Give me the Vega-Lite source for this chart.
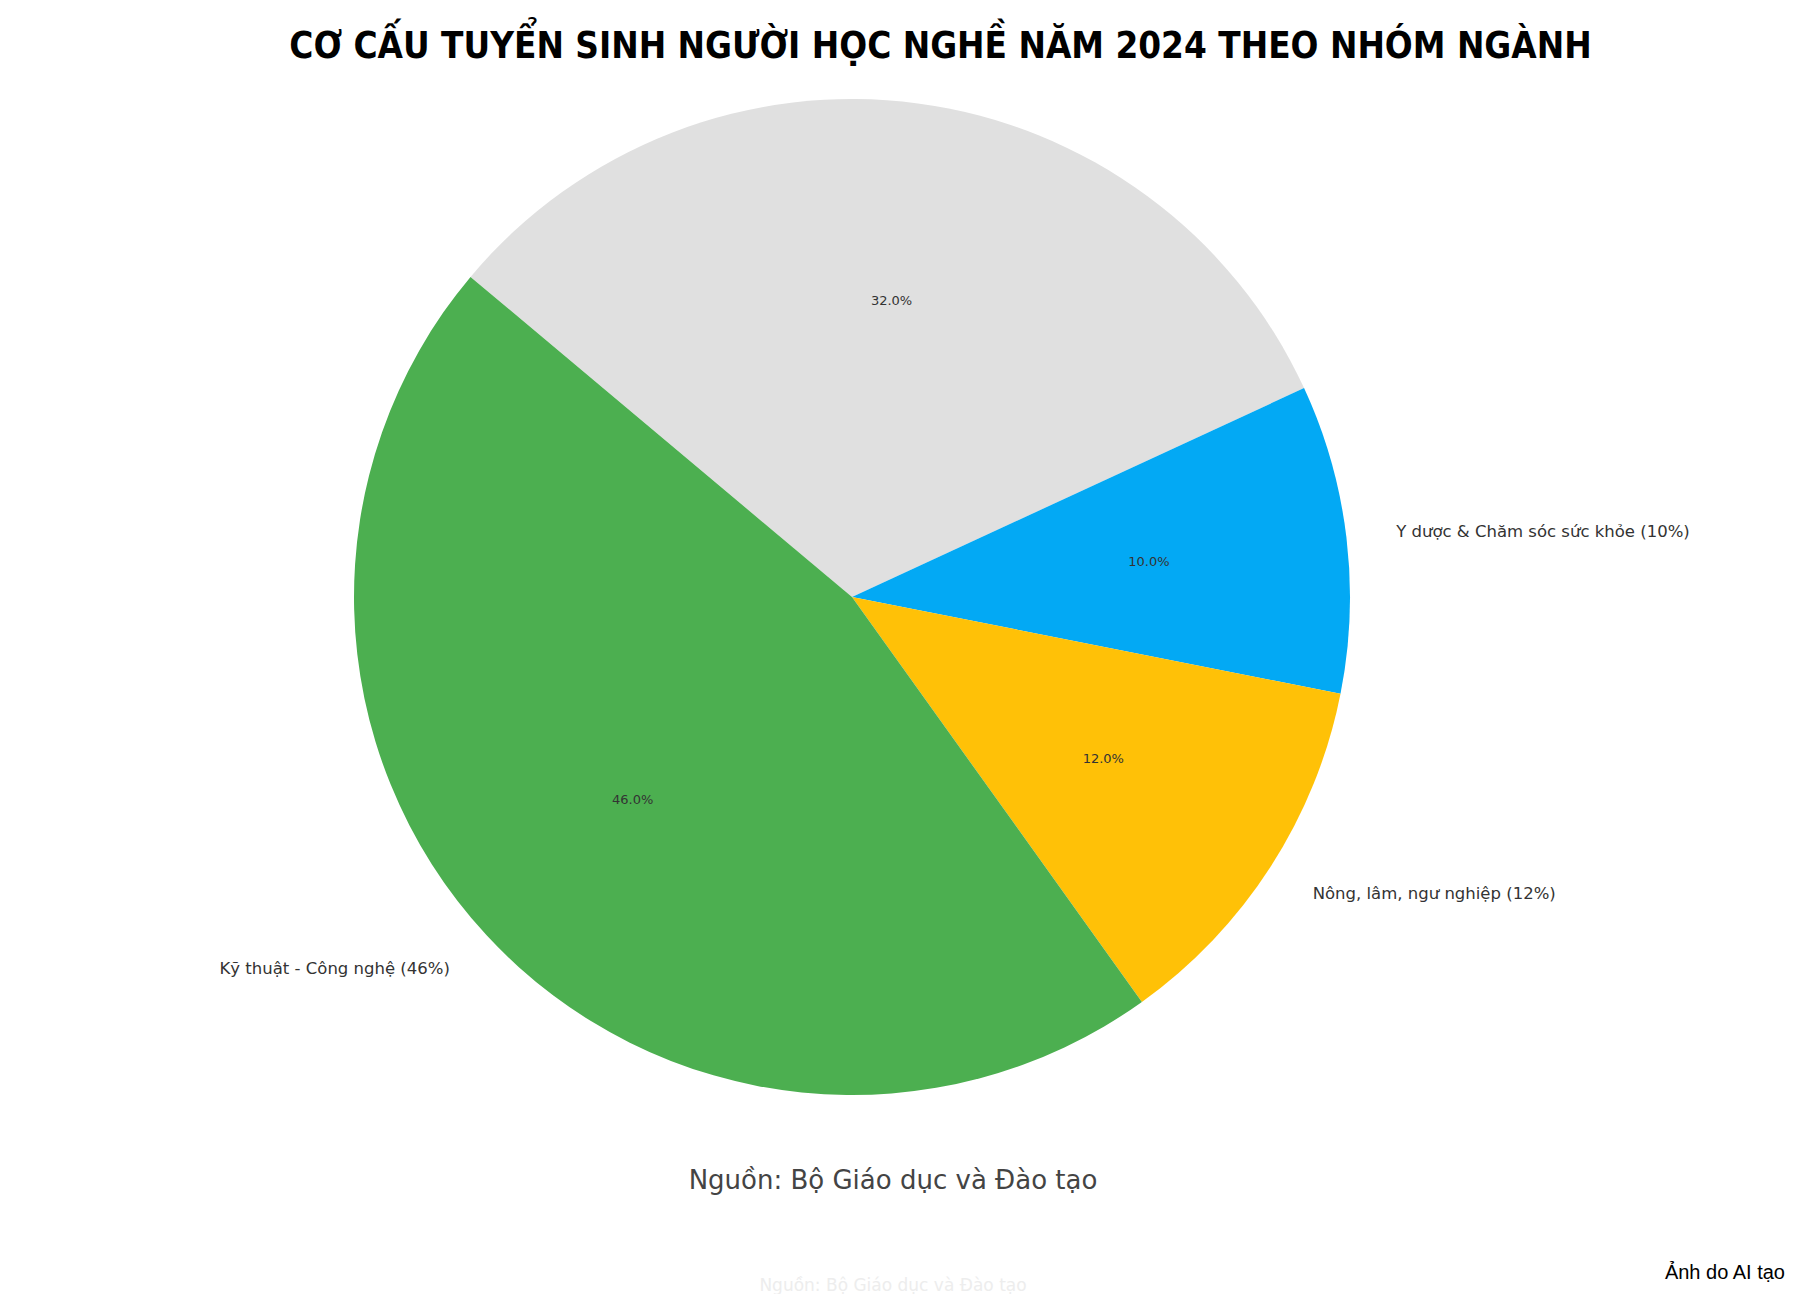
{
  "$schema": "https://vega.github.io/schema/vega-lite/v6.json",
  "background": "white",
  "padding": {"left": 0, "right": 96, "top": 29, "bottom": 0},
  "config": {"view": {"stroke": null}},
  "title": {
    "text": "CƠ CẤU TUYỂN SINH NGƯỜI HỌC NGHỀ NĂM 2024 THEO NHÓM NGÀNH",
    "font": "DejaVu Sans Condensed",
    "fontWeight": "bold",
    "fontSize": 36.5,
    "color": "#000000",
    "anchor": "middle",
    "dx": 48,
    "offset": -20
  },
  "spacing": 0,
  "vconcat": [
    {
      "title": {
        "text": "Ảnh do AI tạo",
        "orient": "bottom",
        "anchor": "end",
        "font": "Liberation Sans",
        "fontSize": 20,
        "fontWeight": "normal",
        "color": "#000000",
        "dx": 81,
        "offset": -31
      },
      "spacing": 0,
      "vconcat": [
        {
          "width": 1704,
          "height": 996,
          "title": {
            "text": "Nguồn: Bộ Giáo dục và Đào tạo",
            "orient": "bottom",
            "anchor": "middle",
            "font": "DejaVu Sans",
            "fontSize": 26,
            "fontWeight": "normal",
            "color": "#444444",
            "dx": 41,
            "offset": 73,
            "subtitle": "Nguồn: Bộ Giáo dục và Đào tạo",
            "subtitleFont": "DejaVu Sans",
            "subtitleFontSize": 17,
            "subtitleColor": "#ededed",
            "subtitlePadding": 84
          },
          "data": {
            "values": [
              {"nhom": "Khác", "tyle": 32, "thu_tu": 1, "nhan": "", "pct": "32.0%"},
              {"nhom": "Y dược & Chăm sóc sức khỏe", "tyle": 10, "thu_tu": 2, "nhan": "Y dược & Chăm sóc sức khỏe (10%)", "pct": "10.0%"},
              {"nhom": "Nông, lâm, ngư nghiệp", "tyle": 12, "thu_tu": 3, "nhan": "Nông, lâm, ngư nghiệp (12%)", "pct": "12.0%"},
              {"nhom": "Kỹ thuật - Công nghệ", "tyle": 46, "thu_tu": 4, "nhan": "Kỹ thuật - Công nghệ (46%)", "pct": "46.0%"}
            ]
          },
          "encoding": {
            "theta": {"field": "tyle", "type": "quantitative", "stack": true, "scale": {"range": [5.410521, 11.693706]}},
            "order": {"field": "thu_tu", "type": "quantitative"},
            "detail": {"field": "nhom", "type": "nominal"}
          },
          "layer": [
            {
              "mark": {"type": "arc", "outerRadius": 498},
              "encoding": {
                "color": {
                  "field": "nhom",
                  "type": "nominal",
                  "scale": {
                    "domain": ["Khác", "Y dược & Chăm sóc sức khỏe", "Nông, lâm, ngư nghiệp", "Kỹ thuật - Công nghệ"],
                    "range": ["#E0E0E0", "#03A9F4", "#FFC107", "#4CAF50"]
                  },
                  "legend": null
                }
              }
            },
            {
              "mark": {"type": "text", "radius": 299, "font": "DejaVu Sans", "fontSize": 13, "fill": "#333333", "align": "center", "baseline": "middle"},
              "encoding": {"text": {"field": "pct", "type": "nominal"}}
            },
            {
              "mark": {"type": "text", "radius": 548, "font": "DejaVu Sans", "fontSize": 16.5, "fill": "#333333", "align": "left", "baseline": "middle"},
              "encoding": {"text": {"condition": {"test": "datum.thu_tu == 2 || datum.thu_tu == 3", "field": "nhan", "type": "nominal"}, "value": ""}}
            },
            {
              "mark": {"type": "text", "radius": 548, "font": "DejaVu Sans", "fontSize": 16.5, "fill": "#333333", "align": "right", "baseline": "middle"},
              "encoding": {"text": {"condition": {"test": "datum.thu_tu == 4", "field": "nhan", "type": "nominal"}, "value": ""}}
            }
          ]
        }
      ]
    }
  ]
}
